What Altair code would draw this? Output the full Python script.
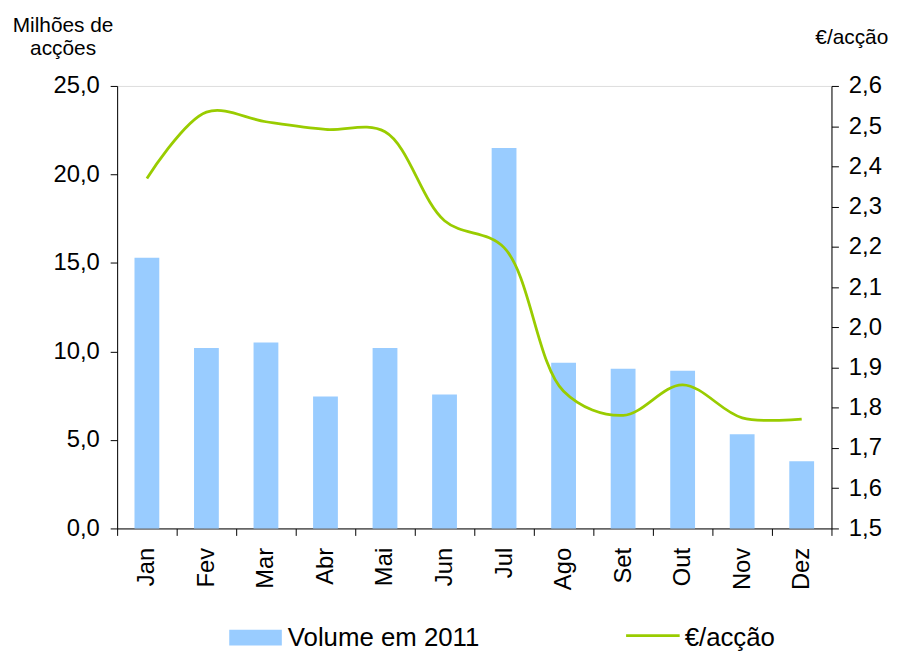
import altair as alt
import pandas as pd

months = ["Jan", "Fev", "Mar", "Abr", "Mai", "Jun", "Jul", "Ago", "Set", "Out", "Nov", "Dez"]
volume = [15.3, 10.2, 10.5, 7.45, 10.2, 7.57, 21.5, 9.36, 9.02, 8.91, 5.32, 3.8]
price = [2.37, 2.535, 2.511, 2.492, 2.486, 2.265, 2.198, 1.841, 1.781, 1.857, 1.775, 1.772]
legend_labels = ["Volume em 2011", "€/acção"]
left_ticks = [0, 5, 10, 15, 20, 25]
right_ticks = [1.5, 1.6, 1.7, 1.8, 1.9, 2.0, 2.1, 2.2, 2.3, 2.4, 2.5, 2.6]

BAR_COLOR = "#99CCFF"
LINE_COLOR = "#99CC00"
FONT = "Liberation Sans"

df = pd.DataFrame({"mes": months, "volume": volume, "preco": price})

x_enc = alt.X(
    "mes:N", sort=months, title=None,
    scale=alt.Scale(paddingInner=0, paddingOuter=0),
    axis=alt.Axis(labelAngle=-90, labelAlign="right", labelBaseline="middle",
                  tickBand="extent", tickSize=7, labelPadding=12,
                  labelFontSize=24, labelFont=FONT, labelColor="black",
                  domainColor="black", tickColor="black"),
)

bars = alt.Chart(df).mark_bar(color=BAR_COLOR, size=25).encode(
    x=x_enc,
    y=alt.Y("volume:Q", scale=alt.Scale(domain=[0, 25], nice=False),
            axis=alt.Axis(values=left_ticks, grid=False, tickSize=7, labelPadding=11,
                          labelExpr="replace(format(datum.value, '.1f'), '.', ',')",
                          labelFontSize=24, labelFont=FONT, labelColor="black",
                          domainColor="black", tickColor="black",
                          title=["Milhões de", "acções"], titleAngle=0,
                          titleAlign="center", titleBaseline="alphabetic",
                          titleX=-55, titleY=-55, titleLineHeight=23,
                          titleFontSize=21, titleFont=FONT, titleFontWeight="normal",
                          titleColor="black")),
)

line = alt.Chart(df).mark_line(color=LINE_COLOR, strokeWidth=2.8, interpolate="catmull-rom").encode(
    x=x_enc,
    y=alt.Y("preco:Q", scale=alt.Scale(domain=[1.5, 2.6], nice=False, zero=False),
            axis=alt.Axis(orient="right", values=right_ticks, grid=False, tickSize=7,
                          labelPadding=10,
                          labelExpr="replace(format(datum.value, '.1f'), '.', ',')",
                          labelFontSize=24, labelFont=FONT, labelColor="black",
                          domainColor="black", tickColor="black",
                          title="€/acção", titleAngle=0,
                          titleAlign="center", titleBaseline="alphabetic",
                          titleX=20, titleY=-43,
                          titleFontSize=21, titleFont=FONT, titleFontWeight="normal",
                          titleColor="black")),
)

leg1 = pd.DataFrame({"label": [legend_labels[0]]})
leg2 = pd.DataFrame({"label": [legend_labels[1]]})

leg_rect = alt.Chart(leg1).mark_rect(color=BAR_COLOR).encode(
    x=alt.value(113), x2=alt.value(166), y=alt.value(548), y2=alt.value(564))
leg_text1 = alt.Chart(leg1).mark_text(align="left", baseline="alphabetic", fontSize=26,
                                      font=FONT, color="black").encode(
    x=alt.value(172), y=alt.value(564), text="label:N")
leg_rule = alt.Chart(leg2).mark_rule(color=LINE_COLOR, strokeWidth=2.8).encode(
    x=alt.value(513), x2=alt.value(567), y=alt.value(554))
leg_text2 = alt.Chart(leg2).mark_text(align="left", baseline="alphabetic", fontSize=26,
                                      font=FONT, color="black").encode(
    x=alt.value(572), y=alt.value(564), text="label:N")

chart = alt.layer(bars, line, leg_rect, leg_text1, leg_rule, leg_text2).resolve_scale(
    y="independent"
).properties(
    width=720, height=446,
    padding={"left": 4, "top": 4, "right": 2, "bottom": 2},
).configure_view(stroke=None).configure(background="white")

chart.save("out.html", embed_options={"renderer": "svg", "actions": False})
